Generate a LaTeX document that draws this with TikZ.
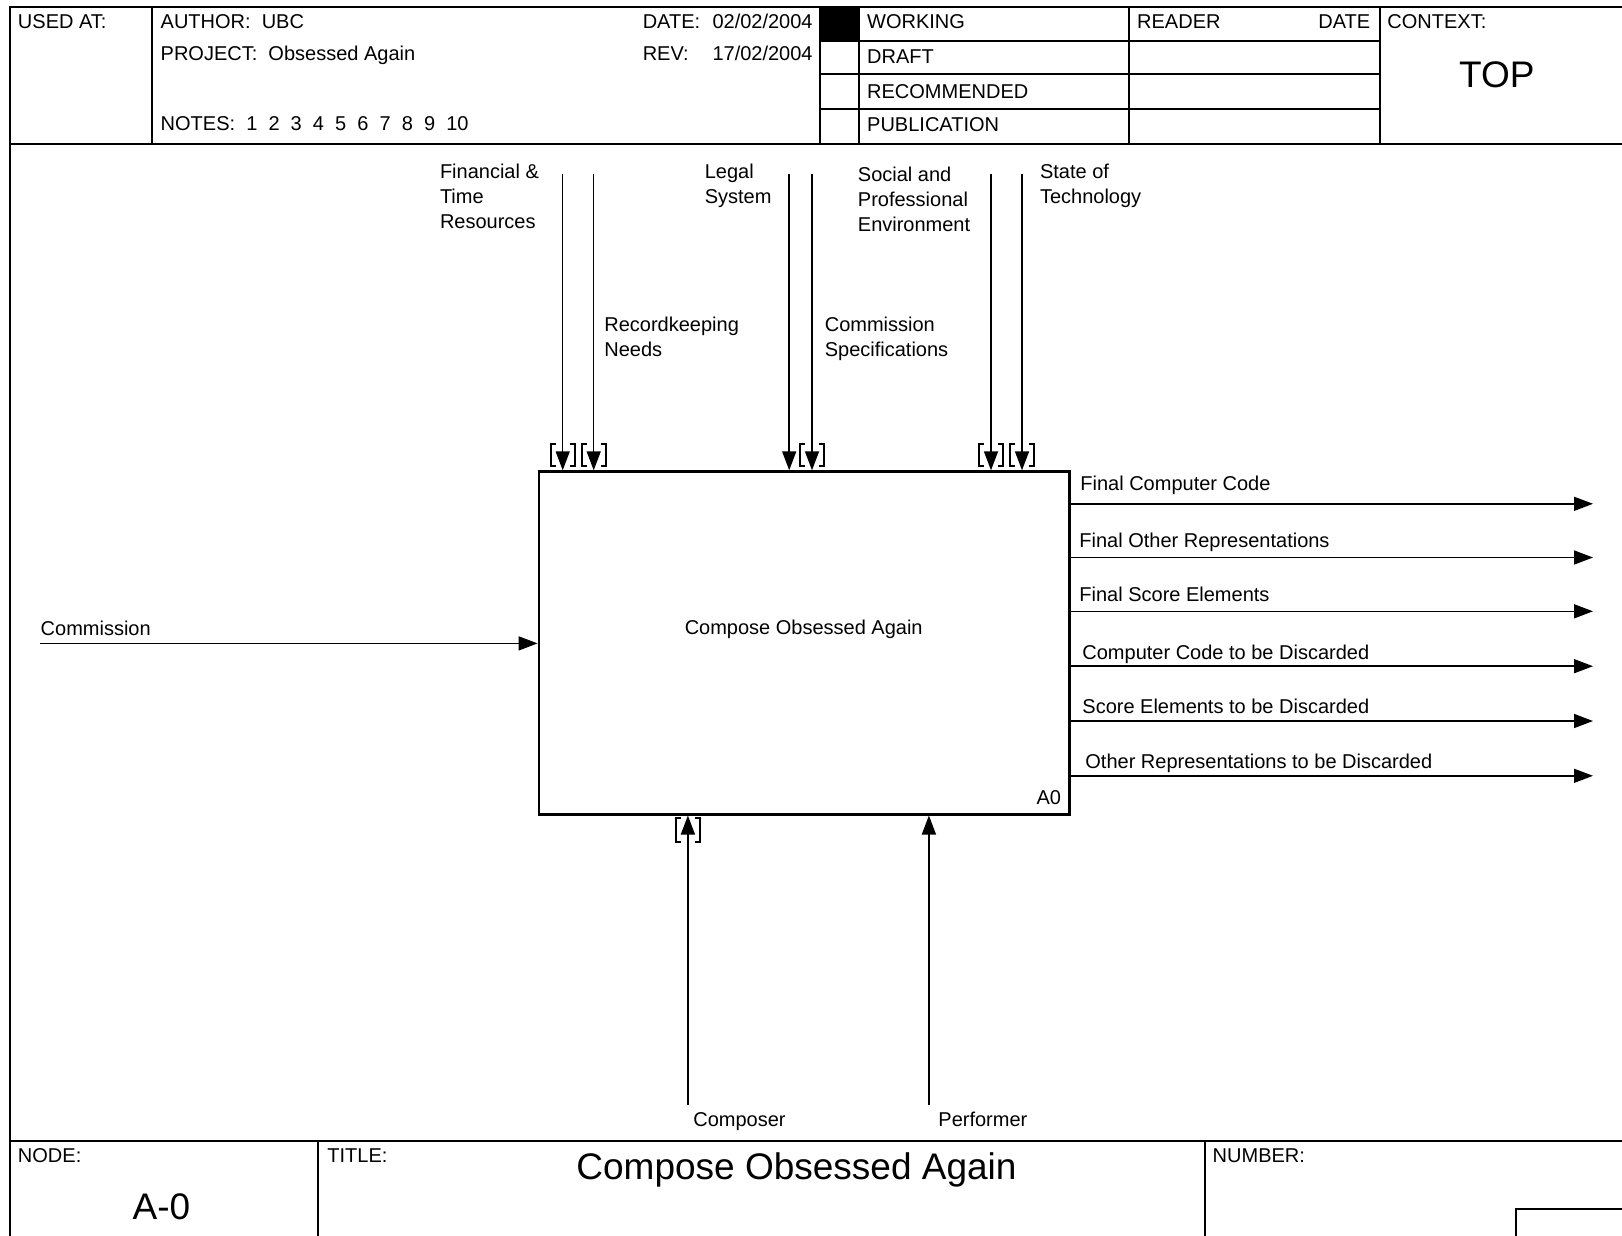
\documentclass[tikz,border=0pt]{standalone}
\usepackage{fontspec}
\setmainfont{Liberation Sans}
\usepackage{tikz}
\usetikzlibrary{arrows.meta}
\usetikzlibrary{calc}
\newcommand{\tunnel}[3]{ \draw[bracket] (#1-7,#2) -- (#1-12,#2) -- (#1-12,#3) -- (#1-7,#3);
  \draw[bracket] (#1+7,#2) -- (#1+12,#2) -- (#1+12,#3) -- (#1+7,#3);}
\tikzset{
  frame/.style={line width=1pt},
  flow/.style={-{Triangle[length=9.5pt,width=7pt]}, line width=0.75pt},
  bracket/.style={line width=0.9pt},
  lbl/.style={font=\fontsize{10}{12.4}\selectfont, inner sep=0pt, align=left},
  big/.style={font=\fontsize{18.5}{22}\selectfont, inner sep=0pt},
  actbox/.style={draw, line width=1.4pt, minimum width=265.3pt, minimum height=171.2pt, inner sep=0pt}
}

\begin{document}
\begin{tikzpicture}[x=0.5pt,y=-0.5pt]
        \useasboundingbox (0,0) rectangle (1622,1236);

        % frame
        \draw[frame] (1622,7.2) -- (10.3,7.2) -- (10.3,1236);
        \draw[frame] (10.3,143.8) -- (1622,143.8);
        \draw[frame] (10.3,1141) -- (1622,1141);
        \draw[frame] (152,7.2) -- (152,143.8);
        \draw[frame] (820,7.2) -- (820,143.8);
        \draw[frame] (858.6,7.2) -- (858.6,143.8);
        \draw[frame] (1128.5,7.2) -- (1128.5,143.8);
        \draw[frame] (1380,7.2) -- (1380,143.8);
        \draw[frame] (820,41.4) -- (1380,41.4);
        \draw[frame] (820,74.5) -- (1380,74.5);
        \draw[frame] (820,108.6) -- (1380,108.6);
        \fill[black] (820,7.2) rectangle (858.6,41.4);
        \draw[frame] (317.6,1141) -- (317.6,1236);
        \draw[frame] (1205,1141) -- (1205,1236);
        \draw[frame] (1516,1236) -- (1516,1209) -- (1622,1209);

        % header
        \node[lbl, anchor=base west] (usedat) at (17.6,29) {USED AT:};
        \node[lbl, anchor=base west] (author) at (160.3,29) {AUTHOR:\ \ UBC};
        \node[lbl, anchor=base west] (project) at (160.3,61) {PROJECT:\ \ Obsessed Again};
        \node[lbl, anchor=base west] (notes) at (160.3,131) {NOTES:\ \ 1\ \ 2\ \ 3\ \ 4\ \ 5\ \ 6\ \ 7\ \ 8\ \ 9\ \ 10};
        \node[lbl, anchor=base west] (datelbl) at (642.4,29) {DATE:};
        \node[lbl, anchor=base east] (dateval) at (813,29) {02/02/2004};
        \node[lbl, anchor=base west] (revlbl) at (642.4,61) {REV:};
        \node[lbl, anchor=base east] (revval) at (813,61) {17/02/2004};
        \node[lbl, anchor=base west] (working) at (866.8,29) {WORKING};
        \node[lbl, anchor=base west] (draft) at (866.8,64) {DRAFT};
        \node[lbl, anchor=base west] (recommended) at (866.8,98) {RECOMMENDED};
        \node[lbl, anchor=base west] (publication) at (866.8,132) {PUBLICATION};
        \node[lbl, anchor=base west] (reader) at (1136.8,29) {READER};
        \node[lbl, anchor=base east] (readerdate) at (1370.6,29) {DATE};
        \node[lbl, anchor=base west] (context) at (1387,29) {CONTEXT:};
        \node[big, anchor=base] (top) at (1496.8,87.8) {TOP};

        % activity
        \node[actbox] (a0) at (804.3,642.9) {};
        \node[lbl, anchor=base] (a0name) at (803.7,634) {Compose Obsessed Again};
        \node[lbl, anchor=base east] (a0num) at (1061.5,804.5) {A0};

        % controls
        \coordinate (fin) at (562.7,173.8);
        \coordinate (rec) at (593.7,173.8);
        \coordinate (legal) at (789.2,173.8);
        \coordinate (spec) at (812,173.8);
        \coordinate (social) at (991,173.8);
        \coordinate (tech) at (1022,173.8);
        \draw[flow] (fin) -- (fin |- a0.north);
        \draw[flow] (rec) -- (rec |- a0.north);
        \draw[flow] (legal) -- (legal |- a0.north);
        \draw[flow] (spec) -- (spec |- a0.north);
        \draw[flow] (social) -- (social |- a0.north);
        \draw[flow] (tech) -- (tech |- a0.north);
        \tunnel{562.7}{444}{466}
        \tunnel{593.7}{444}{466}
        \tunnel{812}{444}{466}
        \tunnel{991}{444}{466}
        \tunnel{1022}{444}{466}
        \node[lbl, anchor=north west] (finlbl) at (439.6,163.7) {Financial \&\\Time\\Resources};
        \node[lbl, anchor=north west] (reclbl) at (604,316.8) {Recordkeeping\\Needs};
        \node[lbl, anchor=north west] (legallbl) at (704.4,163.7) {Legal\\System};
        \node[lbl, anchor=north west] (speclbl) at (824.4,316.8) {Commission\\Specifications};
        \node[lbl, anchor=north west] (sociallbl) at (857.5,166.8) {Social and\\Professional\\Environment};
        \node[lbl, anchor=north west] (techlbl) at (1039.6,163.7) {State of\\Technology};

        % input
        \coordinate (comm) at (40.3,643.4);
        \draw[flow] (comm) -- (comm -| a0.west);
        \node[lbl, anchor=base west] (commlbl) at (40.3,635) {Commission};

        % outputs
        \coordinate (out1) at (1593,503.8);
        \coordinate (out2) at (1593,557.5);
        \coordinate (out3) at (1593,611.3);
        \coordinate (out4) at (1593,666.2);
        \coordinate (out5) at (1593,721);
        \coordinate (out6) at (1593,775.8);
        \draw[flow] (out1 -| a0.east) -- (out1);
        \draw[flow] (out2 -| a0.east) -- (out2);
        \draw[flow] (out3 -| a0.east) -- (out3);
        \draw[flow] (out4 -| a0.east) -- (out4);
        \draw[flow] (out5 -| a0.east) -- (out5);
        \draw[flow] (out6 -| a0.east) -- (out6);
        \node[lbl, anchor=base west] (out1lbl) at (1080,490) {Final Computer Code};
        \node[lbl, anchor=base west] (out2lbl) at (1079,547) {Final Other Representations};
        \node[lbl, anchor=base west] (out3lbl) at (1079,601) {Final Score Elements};
        \node[lbl, anchor=base west] (out4lbl) at (1082,659) {Computer Code to be Discarded};
        \node[lbl, anchor=base west] (out5lbl) at (1082,713.5) {Score Elements to be Discarded};
        \node[lbl, anchor=base west] (out6lbl) at (1085,768) {Other Representations to be Discarded};

        % mechanisms
        \coordinate (composer) at (687.9,1104.7);
        \coordinate (performer) at (928.9,1104.7);
        \draw[flow] (composer) -- (composer |- a0.south);
        \draw[flow] (performer) -- (performer |- a0.south);
        \tunnel{687.9}{818}{842}
        \node[lbl, anchor=base west] (composerlbl) at (693,1126) {Composer};
        \node[lbl, anchor=base west] (performerlbl) at (938,1126) {Performer};

        % footer
        \node[lbl, anchor=base west] (nodelbl) at (17.6,1162) {NODE:};
        \node[big, anchor=base] (nodeval) at (161.4,1219) {A-0};
        \node[lbl, anchor=base west] (titlelbl) at (327,1162) {TITLE:};
        \node[big, anchor=base] (titleval) at (796.5,1179) {Compose Obsessed Again};
        \node[lbl, anchor=base west] (numberlbl) at (1212.3,1162) {NUMBER:};
    \end{tikzpicture}
\end{document}
